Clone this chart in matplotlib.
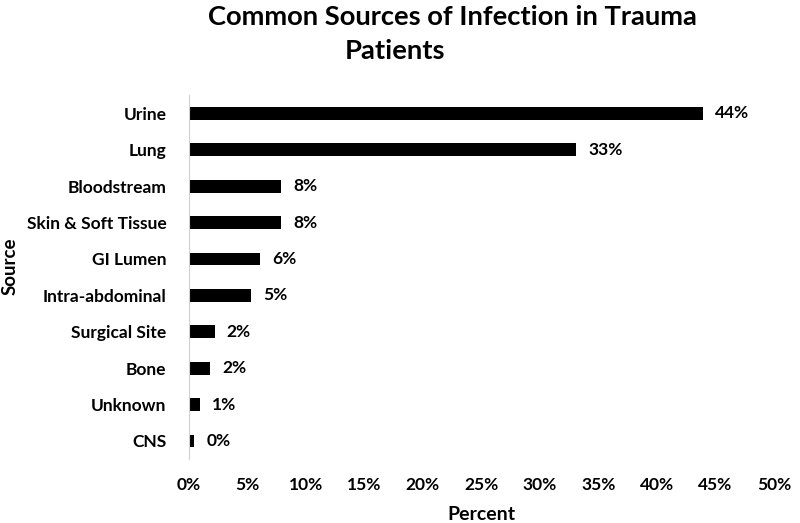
import matplotlib.pyplot as plt
from matplotlib.ticker import FuncFormatter

plt.rcParams['font.family'] = ['Lato', 'DejaVu Sans']
plt.rcParams['font.weight'] = 'bold'

sources = ["Urine", "Lung", "Bloodstream", "Skin & Soft Tissue", "GI Lumen",
           "Intra-abdominal", "Surgical Site", "Bone", "Unknown", "CNS"]
percent = [43.9, 33.1, 7.9, 7.9, 6.1, 5.3, 2.2, 1.8, 0.95, 0.45]
labels = ["44%", "33%", "8%", "8%", "6%", "5%", "2%", "2%", "1%", "0%"]

fig = plt.figure(figsize=(8, 5.23), dpi=100)
ax = fig.add_axes([0.236, 0.122, 0.7315, 0.696])

y = list(range(len(sources)))[::-1]
ax.barh(y, percent, height=0.35, color='black')
for yi, v, lab in zip(y, percent, labels):
    ax.text(v + 1.05, yi, lab, va='center', ha='left', fontsize=12.5, fontweight='bold')

ax.set_yticks(y)
ax.set_yticklabels(sources, fontsize=12.5, fontweight='bold')
ax.set_ylim(-0.5, len(sources) - 0.5)
ax.set_xlim(0, 50)
ax.set_xticks(range(0, 51, 5))
ax.xaxis.set_major_formatter(FuncFormatter(lambda v, p: f"{v:.0f}%"))
ax.tick_params(axis='both', length=0, labelsize=12.5)
ax.tick_params(axis='y', pad=16)
ax.tick_params(axis='x', pad=13)
for lab in ax.get_xticklabels():
    lab.set_fontweight('bold')

for s in ['top', 'right', 'bottom']:
    ax.spines[s].set_visible(False)
ax.spines['left'].set_color('#d0d0d0')

ax.set_xlabel("Percent", fontsize=14, fontweight='bold', labelpad=9)
fig.text(0.0125, 0.49, "Source", rotation=90, va='center', ha='center', fontsize=13.5, fontweight='bold')

# title wraps unevenly in the original, so two separate lines
fig.text(0.565, 0.952, "Common Sources of Infection in Trauma", ha='center', va='baseline',
         fontsize=19.7, fontweight='bold')
fig.text(0.494, 0.887, "Patients", ha='center', va='baseline', fontsize=19.7, fontweight='bold')

fig.savefig("out.png", dpi=100)
